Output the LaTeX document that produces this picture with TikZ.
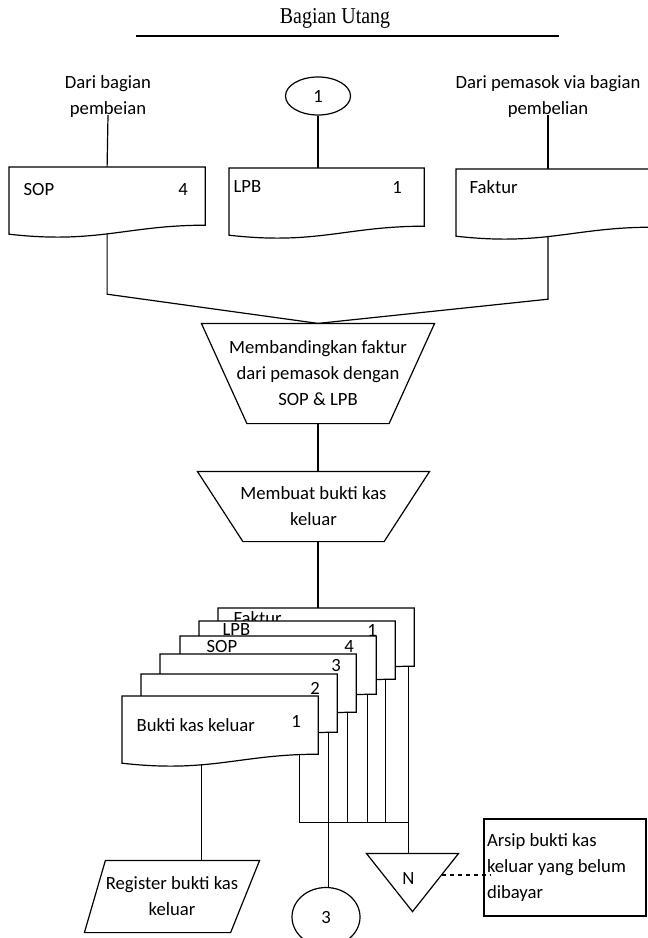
\documentclass[tikz,border=0pt]{standalone}
\usepackage{fontspec}
\setmainfont{Carlito}
\newfontfamily\judulfont[FakeStretch=0.88]{Liberation Serif}
\usetikzlibrary{positioning,calc,shapes.geometric}

\newcommand{\dok}[1]{%
\draw[fill=white] (#1.north west) -- (#1.north east) -- (#1.south east)
  .. controls ($(#1.south east)!0.4!(#1.south west)$) and ($(#1.south west)!0.45!(#1.south east)+(0,19)$) .. ($(#1.south west)+(0,9)$) -- cycle;}

\begin{document}
\begin{tikzpicture}[x=0.75pt, y=-0.75pt, line width=0.9pt,
  font=\fontsize{14}{19.5}\selectfont,
  box/.style={inner sep=0pt, minimum width=146.25pt, minimum height=42.75pt, anchor=north west},
  lbl/.style={inner sep=0pt},
  proc/.style={inner sep=0pt, align=center},
  bulat/.style={ellipse, draw, inner sep=0pt}]
\useasboundingbox (0,0) rectangle (648,938);
\clip (0,0) rectangle (648,938);

\node[font=\judulfont\fontsize{17}{20}\selectfont] (judul) at (335,18) {Bagian Utang};
\draw (136,36) -- (559,36);

\node[align=center] (src1) at (108,97) {Dari bagian\\pembeian};
\node[align=center] (src2) at (548,97) {Dari pemasok via bagian\\pembelian};
\node[bulat, minimum width=48.75pt, minimum height=28.5pt] (c1) at (318,96) {1};

\node[box] (sop) at (9,167) {};
\node[box, minimum width=145.5pt] (lpb) at (229,168) {};
\node[box] (fak) at (456,169) {};

\node[proc, minimum width=174pt, minimum height=74.25pt] (p1) at (318,373.5) {Membandingkan faktur\\dari pemasok dengan\\SOP \& LPB};
\node[proc, minimum width=173.25pt, minimum height=51.75pt] (p2) at (313.5,506.5) {Membuat bukti kas\\keluar};

\node[box] (fak2) at (218,608) {};
\node[box] (lpb2) at (199,621) {};
\node[box] (sop2) at (180,636) {};
\node[box] (d3) at (160,654) {};
\node[box] (d2) at (141,674) {};
\node[box] (bkk) at (122,696) {};

\node[proc, minimum width=130.5pt, minimum height=53.25pt] (reg) at (172,896.5) {Register bukti kas\\keluar};
\node[bulat, minimum width=51pt, minimum height=44.25pt] (c3) at (326,917) {3};
\node[inner sep=0pt, minimum width=68.25pt, minimum height=42.75pt] (arsip) at (412.5,882.5) {};
\node[draw, minimum width=121.5pt, minimum height=72.75pt, text width=117pt, inner xsep=2pt, align=flush left] (ket) at (565,867.5) {Arsip bukti kas\\keluar yang belum\\dibayar};

\draw (src1.south) ++(0,-8) -- (sop.north);
\draw (c1) -- (c1 |- lpb.north);
\draw (src2.south) ++(0,-8) -- (src2.south |- fak.north);
\draw (sop.south) -- ++(0,69) -- (p1.north);
\draw (fak.south -| src2.south) -- ++(0,72) -- (p1.north);
\draw (p1.south) -- (p1.south |- p2.north);
\draw (p2.south -| p1.south) -- (p1.south |- fak2.north);

\coordinate (gabung) at ($(bkk.south east)+(-19,68)$);
\draw ($(fak2.south east)+(-6,0)$) coordinate (f2) -- (f2 |- arsip.north);
\draw ($(lpb2.south east)+(-10,0)$) coordinate (l2) -- (l2 |- gabung);
\draw ($(sop2.south east)+(-9,0)$) coordinate (s2) -- (s2 |- gabung);
\draw ($(d3.south east)+(-9,0)$) coordinate (t3) -- (t3 |- gabung);
\draw ($(d2.south east)+(-9,0)$) coordinate (t2) -- (t2 |- c3.north);
\draw ($(bkk.south east)+(-19,0)$) -- (gabung) -- (gabung -| f2);
\draw ($(bkk.south)+(-19,0)$) coordinate (b1) -- (b1 |- reg.north);
\draw[dashed] ($(arsip.north east)!0.37!(arsip.south)$) coordinate (a1) -- ($(a1 -| ket.west)+(8,0)$);

\dok{sop}
\node[lbl, anchor=west] (tsop) at ($(sop.north west)+(14,23)$) {SOP};
\node[lbl] (nsop) at ($(sop.north east)+(-22,23)$) {4};
\dok{lpb}
\node[lbl, anchor=west] (tlpb) at ($(lpb.north west)+(4,19)$) {LPB};
\node[lbl] (nlpb) at ($(lpb.north east)+(-27,19)$) {1};
\dok{fak}
\node[lbl, anchor=west] (tfak) at ($(fak.north west)+(13,18)$) {Faktur};

\draw (p1.north west) -- (p1.north east) -- ($(p1.south east)+(-45.5,0)$) -- ($(p1.south west)+(45.5,0)$) -- cycle;
\draw (p2.north west) -- (p2.north east) -- ($(p2.south east)+(-45.5,0)$) -- ($(p2.south west)+(45.5,0)$) -- cycle;

\dok{fak2}
\node[lbl, anchor=west] (tfak2) at ($(fak2.north west)+(15,10)$) {Faktur};
\dok{lpb2}
\node[lbl, anchor=west] (tlpb2) at ($(lpb2.north west)+(23,9)$) {LPB};
\node[lbl] (nlpb2) at ($(lpb2.north east)+(-23,9)$) {1};
\dok{sop2}
\node[lbl, anchor=west] (tsop2) at ($(sop2.north west)+(26,11)$) {SOP};
\node[lbl] (nsop2) at ($(sop2.north east)+(-27,11)$) {4};
\dok{d3}
\node[lbl] (nd3) at ($(d3.north east)+(-20,11)$) {3};
\dok{d2}
\node[lbl] (nd2) at ($(d2.north east)+(-22,14)$) {2};
\dok{bkk}
\node[lbl, anchor=west] (tbkk) at ($(bkk.north west)+(14,29)$) {Bukti kas keluar};
\node[lbl] (nbkk) at ($(bkk.north east)+(-22,25)$) {1};

\draw ($(reg.north west)+(21,0)$) -- (reg.north east) -- ($(reg.south east)+(-29,0)$) -- (reg.south west) -- cycle;
\draw (arsip.north west) -- (arsip.north east) -- (arsip.south) -- cycle;
\node (tn) at ($(arsip.center)+(-4,-4)$) {N};
\end{tikzpicture}
\end{document}
